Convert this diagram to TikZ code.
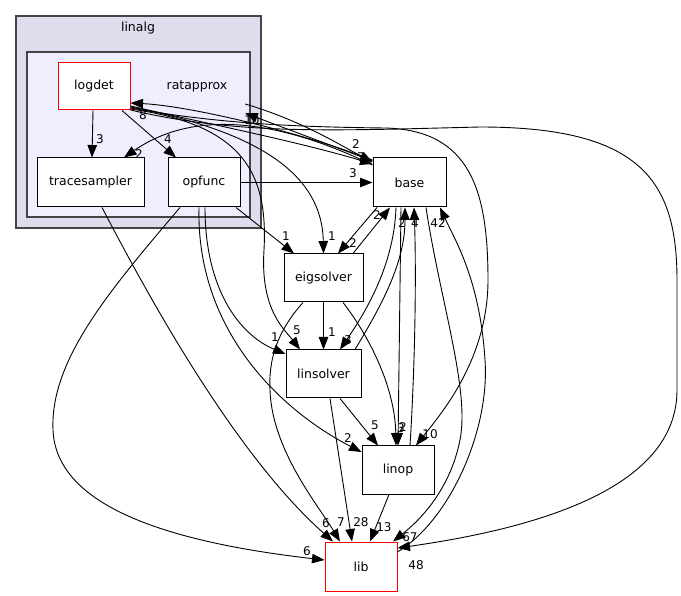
\documentclass[tikz,border=0pt]{standalone}
\usepackage{fontspec}
\setmainfont{DejaVu Sans}
\usetikzlibrary{arrows.meta}
\definecolor{linalgbg}{HTML}{DDDDEE}
\definecolor{ratbg}{HTML}{EEEEFF}
\definecolor{clusterline}{HTML}{444444}

\begin{document}
\begin{tikzpicture}[x=1pt,y=-1pt,
  dirbox/.style={draw=black,fill=white,line width=1pt,minimum width=#1,minimum height=48,inner sep=0pt,font=\fontsize{12.5}{14}\selectfont},
  dep/.style={-{Stealth[length=12.5pt,width=9.5pt,inset=0pt]},line width=.9pt},
  num/.style={inner sep=0pt,font=\fontsize{12}{14}\selectfont}]
\useasboundingbox (0,0) rectangle (681,596);
\draw[fill=linalgbg,draw=clusterline,line width=1.3pt] (16,16) rectangle (261,228);
\node[font=\fontsize{12.5}{14}\selectfont] (linalg) at (138,28) {linalg};
\draw[fill=ratbg,draw=clusterline,line width=1.3pt] (27,52) rectangle (250,217);
\node[minimum width=96,minimum height=54,font=\fontsize{12.5}{14}\selectfont] (ratapprox) at (197,86) {ratapprox};

\node[dirbox=72,draw=red,minimum height=47] (logdet) at (94,86.5) {logdet};
\node[dirbox=107,minimum height=49] (tracesampler) at (90.5,182.5) {tracesampler};
\node[dirbox=72,minimum height=49] (opfunc) at (204,182.5) {opfunc};
\node[dirbox=73,minimum height=49] (base) at (409.5,182.5) {base};
\node[dirbox=79] (eigsolver) at (323.5,278) {eigsolver};
\node[dirbox=75] (linsolver) at (323.5,374) {linsolver};
\node[dirbox=72] (linop) at (398,470) {linop};
\node[dirbox=72,draw=red,minimum height=49] (lib) at (361,566.5) {lib};

% inside ratapprox
\draw[dep] (logdet.south -| 93,0) -- (tracesampler.north -| 92,0);
\draw[dep] (logdet.south -| 122,0) -- (opfunc.north -| 176,0);
% to and from base
\draw[dep] (base.west |- 0,165) .. controls (290,125) and (200,105) .. (tracesampler.north -| 124,0);
\draw[dep] (base.west |- 0,160) .. controls (300,132) and (190,106) .. (logdet.east |- 0,103);
\draw[dep] (logdet.east |- 0,106) .. controls (200,122) and (300,142) .. (base.west |- 0,164);
\draw[dep] (ratapprox.east |- 0,104) .. controls (300,120) and (340,145) .. (base.west |- 0,162);
\draw[dep] (base.west |- 0,161) -- (ratapprox.south east);
\draw[dep] (opfunc.east) -- (base.west);
% long ones round the right
\draw[dep] (logdet.east |- 0,108) .. controls (220,124) and (300,127) .. (385,128) .. controls (470,130) and (488,190) .. (488,280) .. controls (488,360) and (440,415) .. (linop.north -| 416,0);
\draw[dep] (logdet.east |- 0,110) .. controls (220,131) and (300,131) .. (400,129) -- (480,127) .. controls (640,127) and (677,180) .. (677,280) -- (677,390) .. controls (677,480) and (560,525) .. (lib.east |- 0,548);
\draw[dep] (logdet.east |- 0,107) .. controls (250,130) and (322,170) .. (eigsolver.north);
\draw[dep] (logdet.east |- 0,109) .. controls (245,125) and (268,175) .. (264,250) .. controls (260,310) and (285,330) .. (linsolver.north -| 300,0);
% opfunc
\draw[dep] (opfunc.south -| 236,0) -- (eigsolver.north -| 294,0);
\draw[dep] (opfunc.south -| 205,0) .. controls (205,290) and (240,335) .. (linsolver.west |- 0,354);
\draw[dep] (opfunc.south -| 199,0) .. controls (196,330) and (280,410) .. (linop.west |- 0,452);
\draw[dep] (opfunc.south -| 180,0) .. controls (110,290) and (50,360) .. (53,430) .. controls (56,500) and (150,540) .. (lib.west |- 0,560);
\draw[dep] (tracesampler.south -| 102,0) .. controls (140,280) and (230,450) .. (lib.north -| 333,0);
% eigsolver
\draw[dep] (eigsolver.south) -- (linsolver.north);
\draw[dep] (eigsolver.south -| 303,0) .. controls (283,325) and (268,352) .. (270,390) .. controls (272,450) and (318,505) .. (lib.north -| 340,0);
\draw[dep] (eigsolver.south -| 343,0) .. controls (372,340) and (395,390) .. (linop.north -| 396,0);
\draw[dep] (eigsolver.north -| 353,0) -- (base.south -| 390,0);
\draw[dep] (base.south -| 377,0) -- (eigsolver.north -| 338,0);
% linsolver
\draw[dep] (linsolver.north -| 355,0) .. controls (385,300) and (405,260) .. (base.south -| 405,0);
\draw[dep] (base.south -| 396,0) .. controls (394,270) and (360,320) .. (linsolver.north -| 340,0);
\draw[dep] (linsolver.south -| 340,0) -- (linop.north -| 378,0);
\draw[dep] (linsolver.south -| 330,0) -- (lib.north -| 352,0);
% linop and lib
\draw[dep] (base.south -| 401,0) -- (linop.north -| 398,0);
\draw[dep] (linop.north -| 410,0) .. controls (416,350) and (416,260) .. (base.south -| 414,0);
\draw[dep] (linop.south -| 389,0) -- (lib.north -| 370,0);
\draw[dep] (base.south -| 426,0) .. controls (440,300) and (470,390) .. (460,440) .. controls (450,490) and (420,520) .. (lib.north -| 393,0);
\draw[dep] (lib.east |- 0,552) .. controls (450,520) and (490,430) .. (485,360) .. controls (480,280) and (455,240) .. (base.south -| 440,0);

% edge counts
\node[num] (n1) at (100,139) {3};
\node[num] (n2) at (168,139) {4};
\node[num] (n3) at (139,154) {2};
\node[num] (n4) at (143,115) {8};
\node[num] (n5) at (252,120) {10};
\node[num] (n6) at (356,144) {2};
\node[num] (n7) at (361,157) {7};
\node[num] (n8) at (353,173) {3};
\node[num] (n9) at (353,243) {2};
\node[num] (n10) at (377,215) {2};
\node[num] (n11) at (286,236) {1};
\node[num] (n12) at (332,236) {1};
\node[num] (n13) at (297,330) {5};
\node[num] (n14) at (275,337) {1};
\node[num] (n15) at (332,332) {1};
\node[num] (n16) at (348,340) {3};
\node[num] (n17) at (402,223) {2};
\node[num] (n18) at (415,223) {4};
\node[num] (n19) at (438,223) {42};
\node[num] (n20) at (375,425) {5};
\node[num] (n21) at (401,428) {3};
\node[num] (n22) at (403,427) {2};
\node[num] (n23) at (430,434) {10};
\node[num] (n24) at (348,438) {2};
\node[num] (n25) at (326,523) {6};
\node[num] (n26) at (341,522) {7};
\node[num] (n27) at (361,522) {28};
\node[num] (n28) at (384,527) {13};
\node[num] (n29) at (410,537) {67};
\node[num] (n30) at (307,551) {6};
\node[num] (n31) at (416,565) {48};
\end{tikzpicture}
\end{document}
